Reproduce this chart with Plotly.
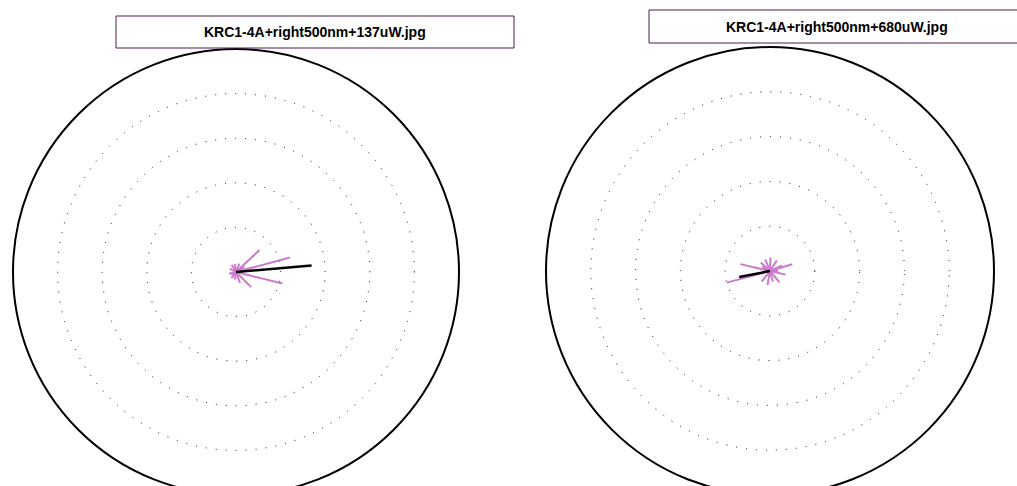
import plotly.graph_objects as go

# ---- data ----
titles = ["KRC1-4A+right500nm+137uW.jpg", "KRC1-4A+right500nm+680uW.jpg"]
ring_values = [1, 2, 3, 4, 5]

# left plot: individual vectors (pink) and resultant (black)
left_pink_r = [0.72, 1.25, 1.07, 0.48, 0.18, 0.20, 0.19, 0.16, 0.16, 0.17, 0.17, 0.26, 0.22, 0.15, 0.12]
left_pink_theta = [43, 15, -14, -45, 97, 68, 120, 151, 194, 234, 262, 290, 30, 0, 210]
left_mean_r = [1.70]
left_mean_theta = [5]

# right plot
right_pink_r = [1.00, 0.68, 0.52, 0.36, 0.33, 0.32, 0.30, 0.28, 0.28, 0.30, 0.28, 0.30, 0.25, 0.20, 0.18]
right_pink_theta = [195, 167, 17, -13, -50, -100, 232, 137, 112, 88, 57, 25, -75, 150, 0]
right_mean_r = [0.70]
right_mean_theta = [191]

PINK = "#CC7ACC"
W, H = 1017, 500


def rays(r_vals, th_vals):
    r, t = [], []
    for rv, tv in zip(r_vals, th_vals):
        r += [0, rv, None]
        t += [tv, tv, None]
    return r, t


fig = go.Figure()

for name, pr, pt, mr, mt in [
    ("polar", left_pink_r, left_pink_theta, left_mean_r, left_mean_theta),
    ("polar2", right_pink_r, right_pink_theta, right_mean_r, right_mean_theta),
]:
    r, t = rays(pr, pt)
    fig.add_trace(go.Scatterpolar(r=r, theta=t, mode="lines", subplot=name,
                                  line=dict(color=PINK, width=2), connectgaps=False,
                                  hoverinfo="skip", showlegend=False))
    r, t = rays(mr, mt)
    fig.add_trace(go.Scatterpolar(r=r, theta=t, mode="lines", subplot=name,
                                  line=dict(color="black", width=2.5), connectgaps=False,
                                  hoverinfo="skip", showlegend=False))


def px_dom_x(a, b):
    return [a / W, b / W]


def px_dom_y(top, bottom):
    return [1 - bottom / H, 1 - top / H]


def polar_cfg(dx, dy):
    return dict(
        domain=dict(x=dx, y=dy),
        bgcolor="white",
        radialaxis=dict(range=[0, 5], tickvals=ring_values, showticklabels=False,
                        ticks="", showline=False, gridcolor="#111111", gridwidth=1,
                        griddash="1px,9px"),
        angularaxis=dict(showgrid=False, showticklabels=False, ticks="",
                         linecolor="black", linewidth=2, rotation=0,
                         direction="counterclockwise"),
    )


fig.update_layout(
    width=W, height=H, autosize=False,
    margin=dict(l=0, r=0, t=0, b=0),
    paper_bgcolor="white", plot_bgcolor="white",
    polar=polar_cfg(px_dom_x(13, 459), px_dom_y(49, 495)),
    polar2=polar_cfg(px_dom_x(546, 994), px_dom_y(47, 495)),
    showlegend=False,
)

# title boxes
boxes = [(116, 16, 514, 48), (649, 10, 1025, 43)]
for (x0, y0, x1, y1), txt in zip(boxes, titles):
    fig.add_shape(type="rect", xref="paper", yref="paper",
                  x0=x0 / W, x1=x1 / W, y0=1 - y1 / H, y1=1 - y0 / H,
                  line=dict(color="#4A1F4A", width=1), fillcolor="white")
    fig.add_annotation(xref="paper", yref="paper", x=(x0 + x1) / 2 / W,
                       y=1 - (y0 + y1) / 2 / H, text="<b>" + txt + "</b>", showarrow=False,
                       font=dict(family="Liberation Sans, Arial, sans-serif", size=14, color="black"),
                       xanchor="center", yanchor="middle")

fig.write_html("out.html", config={"displayModeBar": False},
               post_script="document.body.style.margin='0';document.body.style.overflow='hidden';"
                           "document.documentElement.style.overflow='hidden';")
